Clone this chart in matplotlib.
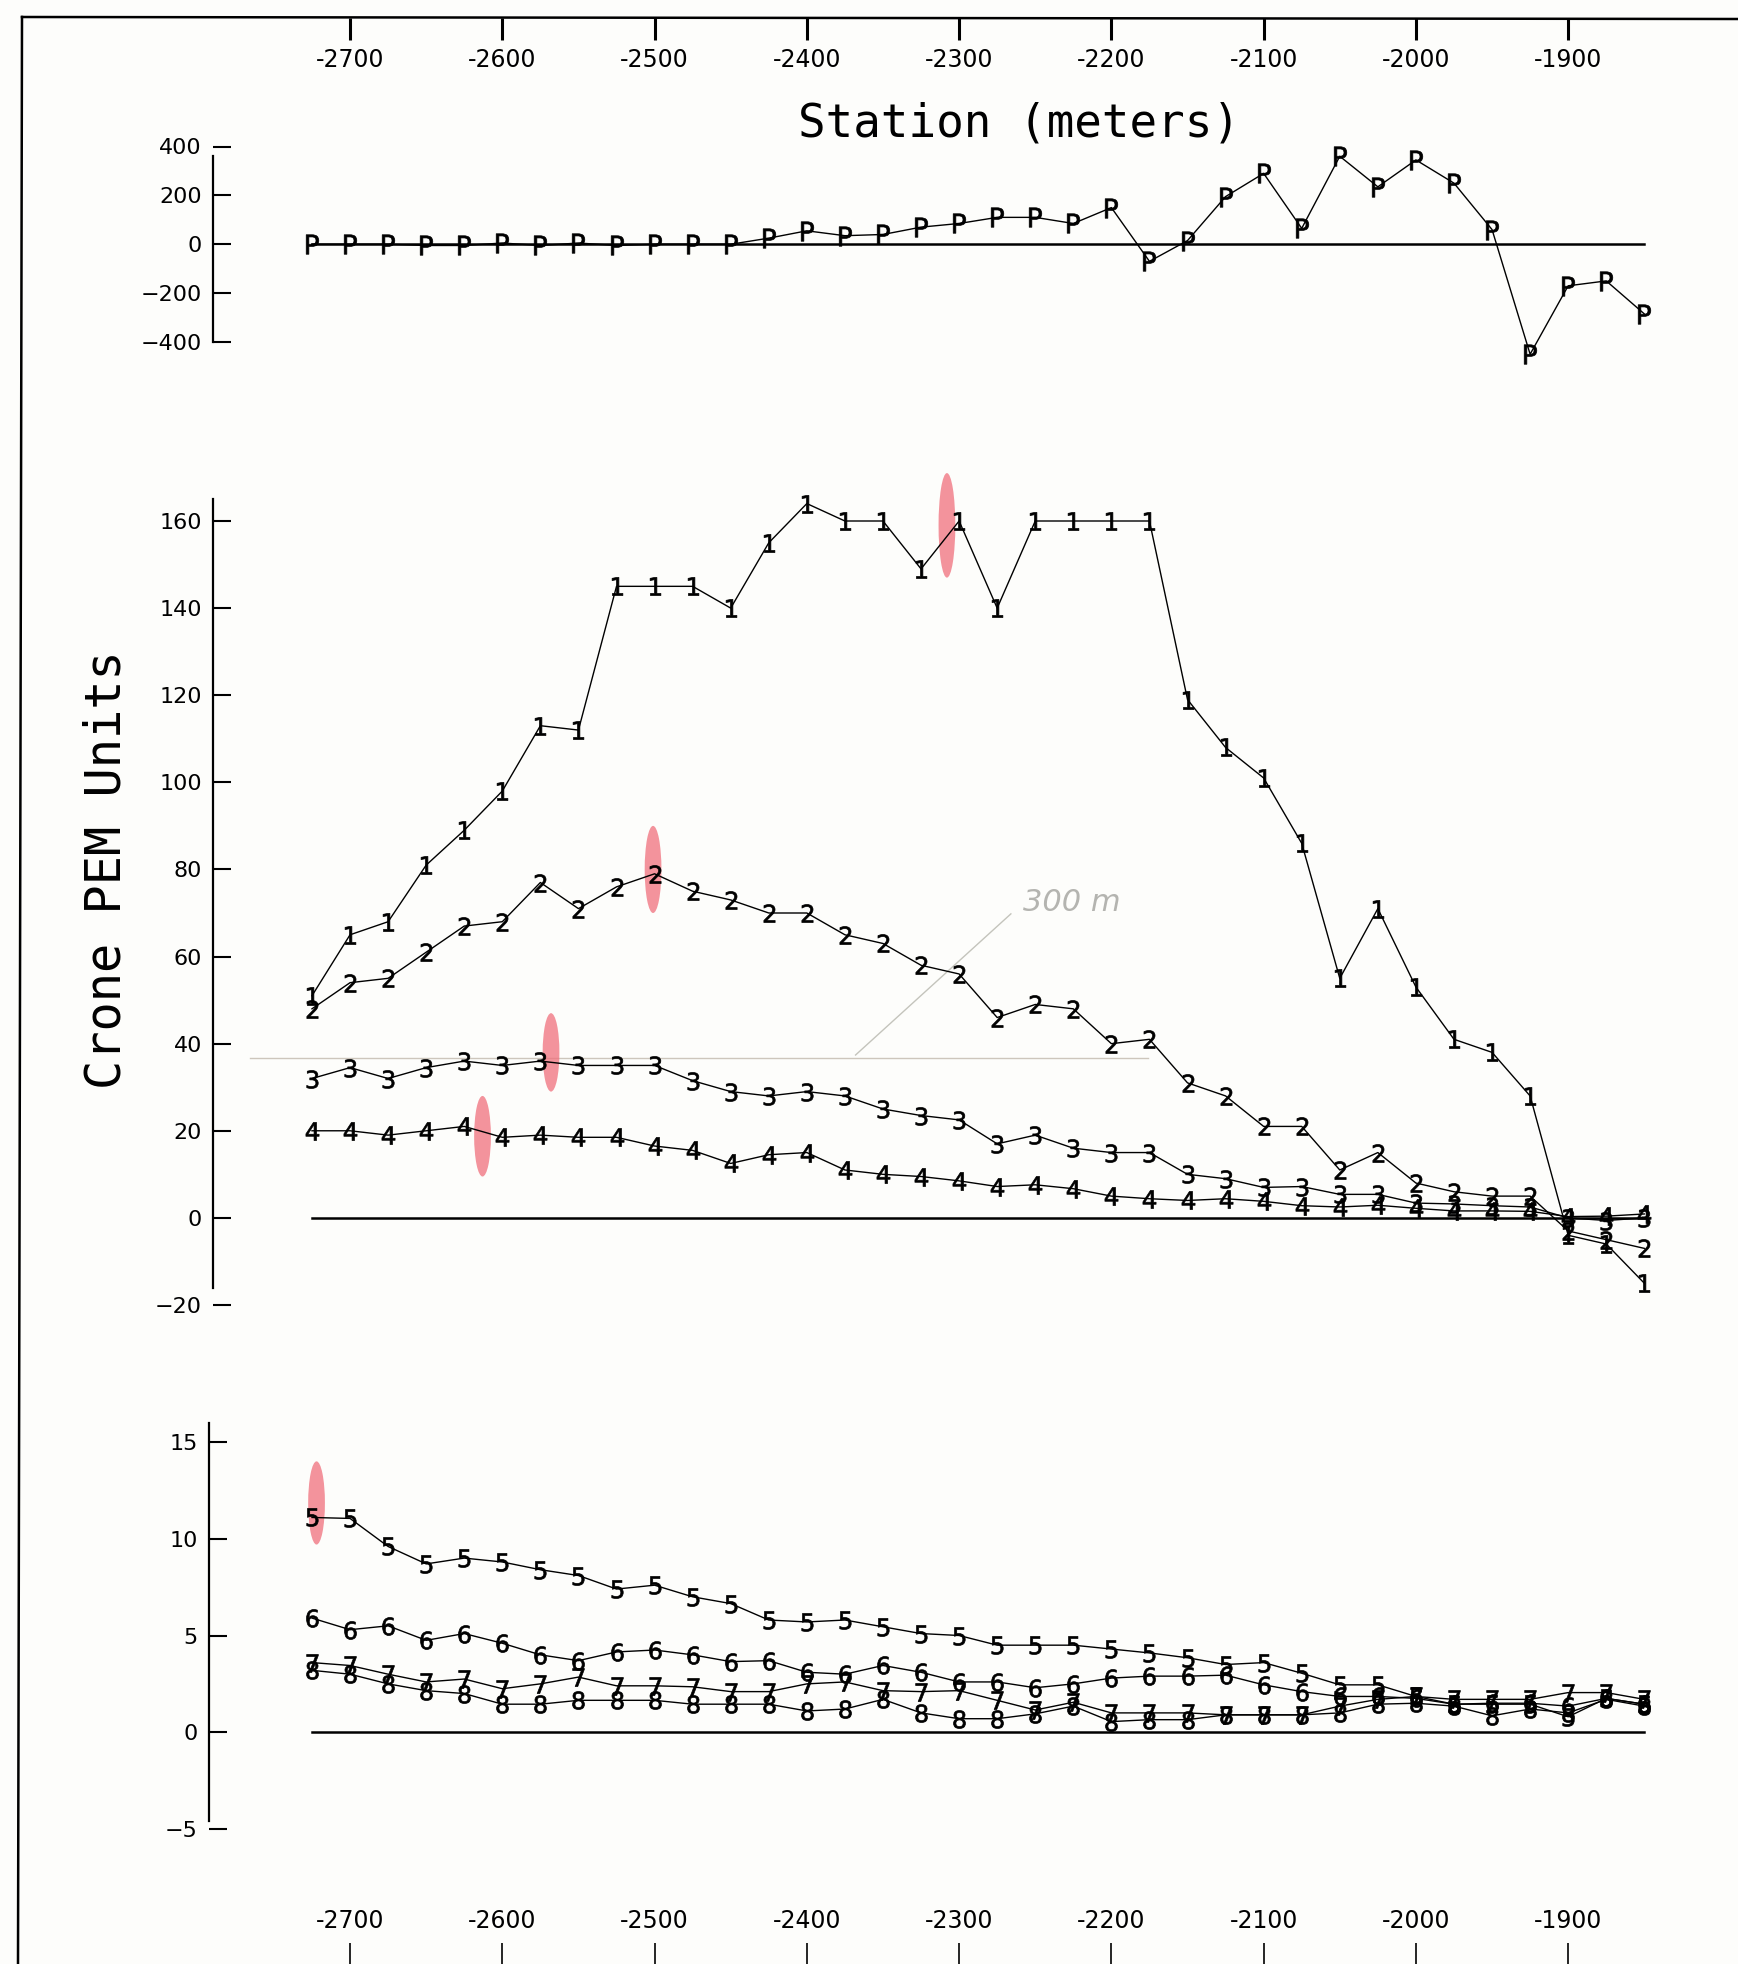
"""
Crone PEM profile: primary field (P) and channels 1-8 along the survey line.
"""

import numpy as np
import matplotlib.pyplot as plt
from matplotlib.lines import Line2D
from matplotlib.patches import Ellipse
from matplotlib.transforms import blended_transform_factory

W, H = 1738, 1964

stations = [-2725, -2700, -2675, -2650, -2625, -2600, -2575, -2550, -2525,
            -2500, -2475, -2450, -2425, -2400, -2375, -2350, -2325, -2300,
            -2275, -2250, -2225, -2200, -2175, -2150, -2125, -2100, -2075,
            -2050, -2025, -2000, -1975, -1950, -1925, -1900, -1875, -1850]

station_ticks = [-2700, -2600, -2500, -2400, -2300, -2200, -2100, -2000, -1900]
station_labels = ['-2700', '-2600', '-2500', '-2400', '-2300', '-2200',
                  '-2100', '-2000', '-1900']

# primary field
prim = [0, 0, 0, -5, -5, 5, -5, 5, -5, 0, 0, 0, 25, 55, 35, 40, 70, 85,
        110, 110, 85, 150, -70, 15, 195, 290, 65, 360, 235, 345, 250, 60,
        -450, -170, -150, -285]

# early channels
ch1 = [51, 65, 68, 81, 89, 98, 113, 112, 145, 145, 145, 140, 155, 164, 160,
       160, 149, 160, 140, 160, 160, 160, 160, 119, 108, 101, 86, 55, 71, 53,
       41, 38, 28, -4, -6, -15]
ch2 = [48, 54, 55, 61, 67, 68, 77, 71, 76, 79, 75, 73, 70, 70, 65, 63, 58, 56,
       46, 49, 48, 40, 41, 31, 28, 21, 21, 11, 15, 8, 6, 5, 5, -3, -5, -7]
ch3 = [32, 34.5, 32, 34.5, 36, 35, 36, 35, 35, 35, 31.5, 29, 28, 29, 28, 25,
       23.5, 22.5, 17, 19, 16, 15, 15, 10, 9, 7, 7.2, 5.4, 5.4, 3.4, 3.2, 2.8,
       2.5, 0, -0.6, 0]
ch4 = [20, 20, 19, 20, 21, 18.5, 19, 18.5, 18.5, 16.5, 15.5, 12.5, 14.5, 15,
       11, 10, 9.5, 8.5, 7.2, 7.6, 6.7, 5, 4.4, 4, 4.4, 3.8, 2.8, 2.5, 2.9,
       2.2, 1.6, 1.6, 1.5, 0.3, 0.4, 0.9]

# late channels
ch5 = [11.1, 11.05, 9.6, 8.7, 9.0, 8.8, 8.4, 8.1, 7.4, 7.6, 7.0, 6.65, 5.8,
       5.7, 5.8, 5.45, 5.1, 5.0, 4.5, 4.5, 4.5, 4.3, 4.1, 3.85, 3.5, 3.6,
       3.05, 2.45, 2.45, 1.85, 1.45, 1.45, 1.45, 0.8, 1.75, 1.45]
ch6 = [5.9, 5.3, 5.5, 4.75, 5.1, 4.6, 4.0, 3.7, 4.15, 4.25, 4.0, 3.65, 3.7,
       3.1, 3.0, 3.45, 3.1, 2.6, 2.6, 2.3, 2.5, 2.8, 2.9, 2.9, 2.95, 2.45,
       2.1, 1.85, 1.85, 1.75, 1.45, 1.5, 1.5, 1.35, 1.75, 1.45]
ch7 = [3.6, 3.45, 3.0, 2.6, 2.75, 2.25, 2.5, 2.85, 2.4, 2.4, 2.35, 2.1, 2.1,
       2.5, 2.6, 2.15, 2.1, 2.15, 1.65, 1.15, 1.55, 1.0, 1.0, 1.0, 0.9, 0.9,
       0.9, 1.35, 1.7, 1.85, 1.7, 1.7, 1.7, 2.05, 2.05, 1.7]
ch8 = [3.2, 3.0, 2.5, 2.15, 2.0, 1.45, 1.45, 1.65, 1.65, 1.65, 1.45, 1.45,
       1.45, 1.1, 1.2, 1.7, 1.0, 0.7, 0.7, 0.95, 1.35, 0.55, 0.65, 0.65, 0.9,
       0.9, 0.9, 1.0, 1.45, 1.5, 1.35, 0.85, 1.2, 1.0, 1.7, 1.35]

prim_ticks = [-400, -200, 0, 200, 400]
early_ticks = [-20, 0, 20, 40, 60, 80, 100, 120, 140, 160]
late_ticks = [-5, 0, 5, 10, 15]

# red marker-pen highlights: (station, low value, high value)
hl_early = [(-2308, 147, 171), (-2501, 70, 90), (-2568, 29, 47), (-2613, 9.5, 28)]
hl_late = [(-2722, 9.7, 14.0)]

# pencil notes on the middle panel
pencil_h = ([-2766, -2176], [36.8, 36.8])
pencil_d = ([-2368, -2266], [37.4, 69.8])

plt.rcParams['font.family'] = 'DejaVu Sans'
plt.rcParams['axes.unicode_minus'] = True

paper = '#fdfdfb'
fig = plt.figure(figsize=(W / 100, H / 100), dpi=100, facecolor=paper)

XLIM = (-2790, -1820)
LEFT, RIGHT = 213, 1690
PXM = 1.523   # pixels per metre


def px_axes(top, bottom, left=LEFT, right=RIGHT):
    return fig.add_axes([left / W, 1 - bottom / H, (right - left) / W,
                         (bottom - top) / H])


def style_panel(ax, ylim, ticks, bounds):
    ax.set_ylim(*ylim)
    ax.set_facecolor('none')
    for s in ['top', 'right', 'bottom']:
        ax.spines[s].set_visible(False)
    ax.spines['left'].set_bounds(*bounds)
    ax.spines['left'].set_linewidth(1.6)
    ax.set_xticks([])
    ax.set_yticks(ticks)
    ax.tick_params(axis='y', direction='in', length=13, width=1.5,
                   pad=8, labelsize=16)


def plot_channel(ax, vals, sym, ms=13):
    ax.plot(stations, vals, color='black', lw=1.0,
            marker='$\\mathrm{' + sym + '}$', ms=ms, mew=0.5, mec='black',
            mfc='black', clip_on=False, zorder=3)


def zero_line(ax):
    ax.plot([stations[0], stations[-1]], [0, 0], color='black', lw=1.8,
            zorder=2)


def highlight(ax, marks):
    for st, lo, hi in marks:
        ax.add_patch(Ellipse((st, (lo + hi) / 2), 11, hi - lo,
                             color='#f0707c', alpha=0.75, lw=0, zorder=2.5,
                             clip_on=False))


# top panel: primary
ax1 = px_axes(146.5, 342)
ax1.set_xlim(*XLIM)
style_panel(ax1, (-400, 400), prim_ticks, (-400, 360))
zero_line(ax1)
plot_channel(ax1, prim, 'P', ms=14)

# middle panel: channels 1-4
ax2 = px_axes(521, 1305)
ax2.set_xlim(*XLIM)
style_panel(ax2, (-20, 160), early_ticks, (-16, 165))
ax2.plot(*pencil_h, color='#cdc6bc', lw=1.0, zorder=1)
ax2.plot(*pencil_d, color='#c4c4bc', lw=1.0, zorder=1)
ax2.text(-2258, 72.5, '300 m', color='#b4b4b0', fontsize=22,
         fontstyle='italic', ha='left', va='center')
highlight(ax2, hl_early)
zero_line(ax2)
for vals, sym in [(ch1, '1'), (ch2, '2'), (ch3, '3'), (ch4, '4')]:
    plot_channel(ax2, vals, sym)

# bottom panel: channels 5-8 (sheet is a little skewed here)
ax3 = px_axes(1442, 1829, left=209)
ax3.set_xlim(XLIM[0] - (LEFT - 209) / PXM, XLIM[1])
style_panel(ax3, (-5, 15), late_ticks, (-4.6, 16))
highlight(ax3, hl_late)
zero_line(ax3)
for vals, sym in [(ch5, '5'), (ch6, '6'), (ch7, '7'), (ch8, '8')]:
    plot_channel(ax3, vals, sym)

# station scale at the top of the sheet: marks hang from the border line
trans_top = blended_transform_factory(ax1.transData, fig.transFigure)
for st, lab in zip(station_ticks, station_labels):
    fig.add_artist(Line2D([st, st], [1 - 18 / H, 1 - 40 / H], color='black',
                          lw=2.2, solid_capstyle='butt', transform=trans_top))
    fig.text(st, 1 - 48 / H, lab, transform=trans_top, ha='center',
             va='top', fontsize=17)

# station scale at the bottom of the sheet
axb = px_axes(1937, 1964, left=209)
axb.set_xlim(XLIM[0] - (LEFT - 209) / PXM, XLIM[1])
axb.set_facecolor('none')
for s in axb.spines.values():
    s.set_visible(False)
axb.set_yticks([])
axb.set_xticks(station_ticks)
axb.set_xticklabels(station_labels)
axb.tick_params(axis='x', top=False, bottom=True, labeltop=True,
                labelbottom=False, direction='in', length=15, width=1.2,
                pad=3, labelsize=17)

# sheet border lines
fig.add_artist(Line2D([22 / W, 1], [1 - 17 / H, 1 - 19 / H], color='black',
                      lw=1.8, transform=fig.transFigure))
fig.add_artist(Line2D([22 / W, 18 / W], [1 - 17 / H, 0], color='black',
                      lw=1.8, transform=fig.transFigure))

fig.text(1019 / W, 1 - 124 / H, 'Station (meters)', family='DejaVu Sans Mono',
         fontsize=33, ha='center', va='center')
fig.text(107 / W, 1 - 870 / H, 'Crone PEM Units', family='DejaVu Sans Mono',
         fontsize=35, rotation=90, ha='center', va='center')

fig.savefig('out.png', dpi=100, facecolor=paper)
